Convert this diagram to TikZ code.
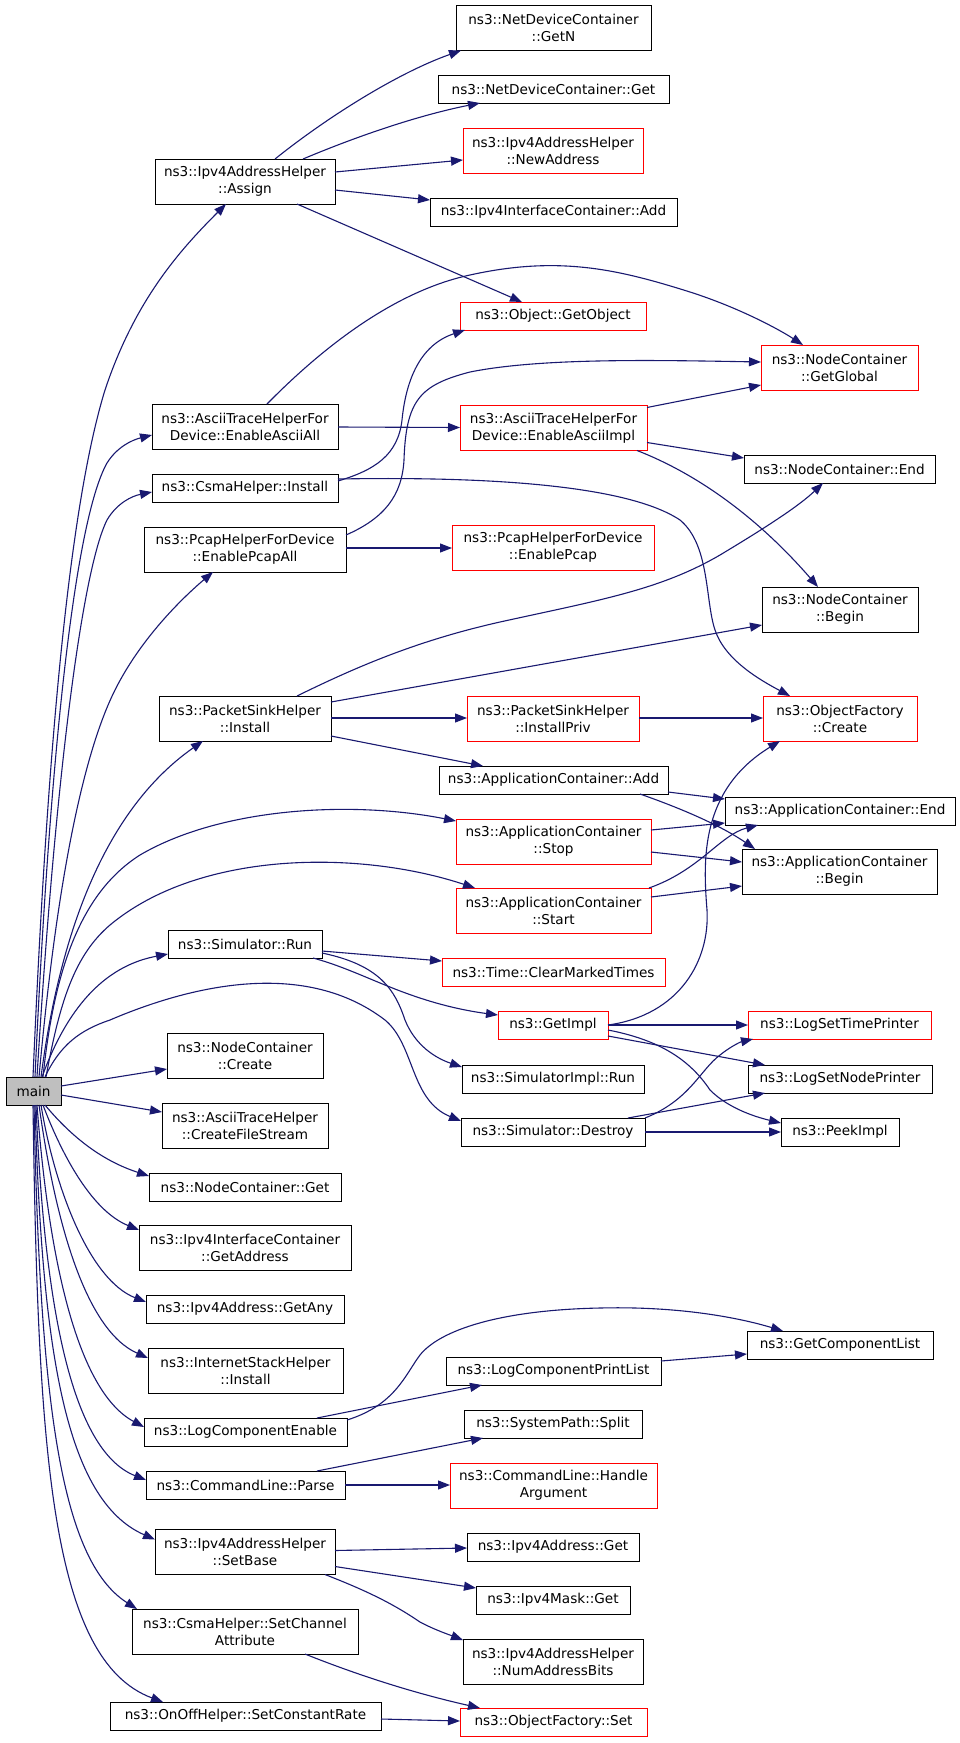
\documentclass[tikz,border=0pt]{standalone}
\usepackage{fontspec}
\setmainfont{DejaVu Sans}
\usetikzlibrary{arrows.meta,calc}
\definecolor{edgecol}{HTML}{191970}
\definecolor{mainfill}{HTML}{BFBFBF}
\begin{document}
\begin{tikzpicture}[x=1pt,y=-1pt,
  box/.style={draw=black, fill=white, line width=0.9pt, inner sep=0pt, outer sep=0pt, align=center, font=\fontsize{13.6}{17}\selectfont},
  one/.style={box, minimum height=28pt},
  two/.style={box, minimum height=45pt},
  rbox/.style={draw=red},
  edg/.style={draw=edgecol, line width=1.1pt, -{Triangle[length=12pt,width=9pt]}}]
\fill[white] (0,0) rectangle (960,1743);
\useasboundingbox (0,0) rectangle (960,1743);

\node[two, minimum width=180pt] (assign) at (245,181.5) {ns3::Ipv4AddressHelper\\::Assign};
\node[two, minimum width=195pt] (getn) at (553.5,28) {ns3::NetDeviceContainer\\::GetN};
\node[one, minimum width=231pt] (ndcget) at (553.5,89) {ns3::NetDeviceContainer::Get};
\node[two, rbox, minimum width=180pt] (newaddr) at (553,150.5) {ns3::Ipv4AddressHelper\\::NewAddress};
\node[one, minimum width=247pt] (ifadd) at (553.5,212) {ns3::Ipv4InterfaceContainer::Add};
\node[one, rbox, minimum width=186pt] (getobject) at (553,316) {ns3::Object::GetObject};
\node[two, rbox, minimum width=157pt] (getglobal) at (839.5,367.5) {ns3::NodeContainer\\::GetGlobal};
\node[two, minimum width=186pt] (asciiall) at (245,426.5) {ns3::AsciiTraceHelperFor\\Device::EnableAsciiAll};
\node[two, rbox, minimum width=187pt] (asciiimpl) at (553.5,428) {ns3::AsciiTraceHelperFor\\Device::EnableAsciiImpl};
\node[one, minimum width=191pt] (ncend) at (839.5,469) {ns3::NodeContainer::End};
\node[one, minimum width=186pt] (csmainstall) at (245,488) {ns3::CsmaHelper::Install};
\node[two, minimum width=202pt] (pcapall) at (245,549.5) {ns3::PcapHelperForDevice\\::EnablePcapAll};
\node[two, rbox, minimum width=202pt] (pcap) at (553,547.5) {ns3::PcapHelperForDevice\\::EnablePcap};
\node[two, minimum width=156pt] (ncbegin) at (840,609.5) {ns3::NodeContainer\\::Begin};
\node[two, minimum width=172pt] (psinstall) at (245,718.5) {ns3::PacketSinkHelper\\::Install};
\node[two, rbox, minimum width=172pt] (installpriv) at (553,718.5) {ns3::PacketSinkHelper\\::InstallPriv};
\node[two, rbox, minimum width=154pt] (create) at (840,718.5) {ns3::ObjectFactory\\::Create};
\node[one, minimum width=229pt] (appadd) at (553.5,780) {ns3::ApplicationContainer::Add};
\node[one, minimum width=230pt] (append) at (840,811) {ns3::ApplicationContainer::End};
\node[two, rbox, minimum width=195pt] (stop) at (553.5,841.5) {ns3::ApplicationContainer\\::Stop};
\node[two, minimum width=195pt] (appbegin) at (839.5,871.5) {ns3::ApplicationContainer\\::Begin};
\node[two, rbox, minimum width=195pt] (start) at (553.5,910.5) {ns3::ApplicationContainer\\::Start};
\node[one, minimum width=154pt] (simrun) at (245,944) {ns3::Simulator::Run};
\node[one, rbox, minimum width=223pt] (clear) at (553.5,972) {ns3::Time::ClearMarkedTimes};
\node[one, rbox, minimum width=110pt] (getimpl) at (553,1025) {ns3::GetImpl};
\node[one, rbox, minimum width=183pt] (timeprinter) at (839.5,1025) {ns3::LogSetTimePrinter};
\node[two, minimum width=156pt] (ncreate) at (245,1055.5) {ns3::NodeContainer\\::Create};
\node[one, minimum width=182pt] (simimplrun) at (553,1079) {ns3::SimulatorImpl::Run};
\node[one, minimum width=184pt] (nodeprinter) at (840,1079) {ns3::LogSetNodePrinter};
\node[one, fill=mainfill, minimum width=55pt] (main) at (33.5,1091) {main};
\node[two, minimum width=166pt] (filestream) at (245,1125.5) {ns3::AsciiTraceHelper\\::CreateFileStream};
\node[one, minimum width=184pt] (destroy) at (553,1132) {ns3::Simulator::Destroy};
\node[one, minimum width=118pt] (peek) at (840,1132) {ns3::PeekImpl};
\node[one, minimum width=192pt] (ncget) at (245,1187) {ns3::NodeContainer::Get};
\node[two, minimum width=212pt] (getaddress) at (245,1247.5) {ns3::Ipv4InterfaceContainer\\::GetAddress};
\node[one, minimum width=198pt] (getany) at (245,1309) {ns3::Ipv4Address::GetAny};
\node[one, minimum width=186pt] (complist) at (840,1345) {ns3::GetComponentList};
\node[two, minimum width=195pt] (ishinstall) at (245.5,1370.5) {ns3::InternetStackHelper\\::Install};
\node[one, minimum width=215pt] (printlist) at (553.5,1371) {ns3::LogComponentPrintList};
\node[one, minimum width=178pt] (split) at (553,1424) {ns3::SystemPath::Split};
\node[one, minimum width=203pt] (lce) at (245.5,1432) {ns3::LogComponentEnable};
\node[two, rbox, minimum width=207pt] (handlearg) at (553.5,1485.5) {ns3::CommandLine::Handle\\Argument};
\node[one, minimum width=199pt] (parse) at (245.5,1485) {ns3::CommandLine::Parse};
\node[two, minimum width=180pt] (setbase) at (245,1552) {ns3::Ipv4AddressHelper\\::SetBase};
\node[one, minimum width=172pt] (addrget) at (553,1547) {ns3::Ipv4Address::Get};
\node[one, minimum width=154pt] (maskget) at (553,1600) {ns3::Ipv4Mask::Get};
\node[two, minimum width=226pt] (channel) at (245,1631.5) {ns3::CsmaHelper::SetChannel\\Attribute};
\node[two, minimum width=180pt] (numbits) at (553,1661.5) {ns3::Ipv4AddressHelper\\::NumAddressBits};
\node[one, minimum width=271pt] (constrate) at (245.5,1716) {ns3::OnOffHelper::SetConstantRate};
\node[one, rbox, minimum width=187pt] (ofset) at (553.5,1722) {ns3::ObjectFactory::Set};

% main edges
\draw[edg] ($(main.north west)+(27,0)$) .. controls (45,800) and (65,520) .. (105,390) .. controls (135,300) and (180,250) .. ($(assign.south west)+(71,0)$);
\draw[edg] ($(main.north west)+(29,0)$) .. controls (50,750) and (75,520) .. (107,463) .. controls (117,447) and (132,440) .. ($(asciiall.north west)+(0,31)$);
\draw[edg] ($(main.north west)+(31,0)$) .. controls (55,780) and (82,570) .. (107,520) .. controls (117,503) and (132,496) .. ($(csmainstall.north west)+(0,18)$);
\draw[edg] ($(main.north west)+(33,0)$) .. controls (55,900) and (80,760) .. (115,690) .. controls (140,640) and (180,600) .. ($(pcapall.south west)+(69,0)$);
\draw[edg] ($(main.north west)+(35,0)$) .. controls (55,970) and (90,820) .. ($(psinstall.south west)+(44,0)$);
\draw[edg] ($(main.north west)+(37,0)$) .. controls (55,960) and (85,890) .. (140,855) .. controls (220,808) and (350,800) .. ($(stop.north west)+(0,2)$);
\draw[edg] ($(main.north west)+(40,0)$) .. controls (60,1000) and (75,955) .. (110,925) .. controls (200,850) and (360,850) .. ($(start.north west)+(19,0)$);
\draw[edg] ($(main.north west)+(36,0)$) .. controls (70,1000) and (110,965) .. ($(simrun.north west)+(0,24)$);
\draw[edg] ($(main.north west)+(39,0)$) .. controls (60,1045) and (80,1030) .. (110,1020) .. controls (180,990) and (300,955) .. (385,1020) .. controls (415,1045) and (410,1100) .. ($(destroy.north west)+(0,3)$);
\draw[edg] ($(main.north east)+(0,9)$) -- ($(ncreate.north west)+(0,36)$);
\draw[edg] ($(main.north east)+(0,18)$) -- ($(filestream.north west)+(0,9)$);
\draw[edg] ($(main.south west)+(39,0)$) .. controls (70,1135) and (100,1160) .. ($(ncget.north west)+(0,3)$);
\draw[edg] ($(main.south west)+(37,0)$) .. controls (60,1150) and (90,1210) .. ($(getaddress.north west)+(0,5)$);
\draw[edg] ($(main.south west)+(35,0)$) .. controls (55,1190) and (90,1280) .. ($(getany.north west)+(0,7)$);
\draw[edg] ($(main.south west)+(33,0)$) .. controls (55,1220) and (85,1330) .. ($(ishinstall.north west)+(0,10)$);
\draw[edg] ($(main.south west)+(31,0)$) .. controls (48,1250) and (75,1390) .. ($(lce.north west)+(0,9)$);
\draw[edg] ($(main.south west)+(30,0)$) .. controls (44,1300) and (70,1450) .. ($(parse.north west)+(0,9)$);
\draw[edg] ($(main.south west)+(29,0)$) .. controls (42,1350) and (65,1500) .. ($(setbase.north west)+(0,10)$);
\draw[edg] ($(main.south west)+(28,0)$) .. controls (40,1400) and (60,1560) .. ($(channel.north west)+(5,0)$);
\draw[edg] ($(main.south west)+(27,0)$) .. controls (38,1450) and (50,1660) .. ($(constrate.north west)+(53,0)$);

% assign
\draw[edg] ($(assign.north west)+(120,0)$) .. controls (330,115) and (400,72) .. ($(getn.south west)+(5,0)$);
\draw[edg] ($(assign.north west)+(148,0)$) .. controls (360,135) and (420,115) .. ($(ndcget.south west)+(42,0)$);
\draw[edg] ($(assign.north east)+(0,13)$) -- ($(newaddr.north west)+(0,32)$);
\draw[edg] ($(assign.north east)+(0,31)$) -- ($(ifadd.north west)+(0,2)$);
\draw[edg] ($(assign.south west)+(142,0)$) -- ($(getobject.north west)+(62,0)$);

% ascii
\draw[edg] ($(asciiall.north west)+(115,0)$) .. controls (330,340) and (400,290) .. (470,275) .. controls (560,255) and (620,270) .. (690,292) .. controls (740,308) and (780,330) .. ($(getglobal.north west)+(42,0)$);
\draw[edg] ($(asciiall.north east)+(0,23)$) -- ($(asciiimpl.north west)+(0,22)$);
\draw[edg] ($(asciiimpl.north east)+(0,2)$) -- ($(getglobal.north west)+(0,40)$);
\draw[edg] ($(asciiimpl.north east)+(0,37)$) -- ($(ncend.north west)+(0,3)$);
\draw[edg] ($(asciiimpl.south west)+(177,0)$) .. controls (700,475) and (760,520) .. ($(ncbegin.north west)+(56,0)$);

% csma / pcap
\draw[edg] ($(csmainstall.north east)+(0,7)$) .. controls (375,470) and (398,455) .. (402,420) .. controls (406,380) and (420,345) .. ($(getobject.south west)+(5,0)$);
\draw[edg] ($(csmainstall.north east)+(0,5)$) .. controls (450,477) and (620,480) .. (680,520) .. controls (710,545) and (705,600) .. (715,630) .. controls (725,660) and (760,680) .. ($(create.north west)+(27,0)$);
\draw[edg] ($(pcapall.north east)+(0,8)$) .. controls (385,518) and (402,495) .. (404,460) .. controls (406,400) and (420,385) .. (470,372) .. controls (540,358) and (650,360) .. ($(getglobal.north west)+(0,17)$);
\draw[edg] ($(pcapall.north east)+(0,21)$) -- ($(pcap.north west)+(0,23)$);

% packet sink
\draw[edg] ($(psinstall.north west)+(138,0)$) .. controls (360,665) and (420,640) .. (500,622) .. controls (600,600) and (660,590) .. (720,555) .. controls (770,525) and (800,505) .. ($(ncend.south west)+(79,0)$);
\draw[edg] ($(psinstall.north east)+(0,6)$) -- ($(ncbegin.north west)+(0,38)$);
\draw[edg] ($(psinstall.north east)+(0,22)$) -- ($(installpriv.north west)+(0,22)$);
\draw[edg] ($(psinstall.north east)+(0,40)$) -- ($(appadd.north west)+(44,0)$);
\draw[edg] ($(installpriv.north east)+(0,22)$) -- ($(create.north west)+(0,22)$);

% application container
\draw[edg] ($(appadd.north east)+(0,26)$) -- ($(append.north west)+(0,2)$);
\draw[edg] ($(appadd.south west)+(201,0)$) .. controls (680,808) and (720,825) .. ($(appbegin.north west)+(13,0)$);
\draw[edg] ($(stop.north east)+(0,11)$) -- ($(append.north west)+(0,26)$);
\draw[edg] ($(stop.north east)+(0,33)$) -- ($(appbegin.north west)+(0,13)$);
\draw[edg] ($(start.north east)+(-2,0)$) .. controls (700,870) and (720,835) .. ($(append.south west)+(33,0)$);
\draw[edg] ($(start.north east)+(0,9)$) -- ($(appbegin.north west)+(0,37)$);

% simulator
\draw[edg] ($(simrun.north east)+(0,21)$) -- ($(clear.north west)+(0,3)$);
\draw[edg] ($(simrun.south west)+(145,0)$) .. controls (350,968) and (380,985) .. (420,998) .. controls (450,1008) and (475,1012) .. ($(getimpl.north west)+(0,4)$);
\draw[edg] ($(simrun.north east)+(0,23)$) .. controls (380,965) and (395,990) .. (405,1020) .. controls (415,1045) and (435,1058) .. ($(simimplrun.north west)+(0,2)$);
\draw[edg] ($(getimpl.north east)+(0,14)$) .. controls (680,1015) and (710,960) .. (707,910) .. controls (703,860) and (700,790) .. ($(create.south west)+(17,0)$);
\draw[edg] ($(getimpl.north east)+(0,14)$) -- ($(timeprinter.north west)+(0,14)$);
\draw[edg] ($(getimpl.north east)+(0,25)$) -- ($(nodeprinter.north west)+(17,0)$);
\draw[edg] ($(getimpl.north east)+(0,19)$) .. controls (660,1040) and (690,1060) .. (710,1090) .. controls (730,1110) and (760,1118) .. ($(peek.north west)+(0,5)$);
\draw[edg] (destroy.north east) .. controls (690,1100) and (700,1070) .. (720,1055) .. controls (730,1047) and (740,1042) .. ($(timeprinter.south west)+(5,0)$);
\draw[edg] ($(destroy.north west)+(167,0)$) -- ($(nodeprinter.south west)+(17,0)$);
\draw[edg] ($(destroy.north east)+(0,14)$) -- ($(peek.north west)+(0,14)$);

% log / command line / addresses
\draw[edg] ($(lce.north east)+(0,2)$) .. controls (395,1405) and (405,1375) .. (420,1355) .. controls (440,1330) and (500,1310) .. (600,1308) .. controls (680,1306) and (740,1318) .. ($(complist.north west)+(36,0)$);
\draw[edg] ($(lce.north west)+(173,0)$) -- ($(printlist.south west)+(36,0)$);
\draw[edg] ($(printlist.north east)+(0,4)$) -- ($(complist.north west)+(0,23)$);
\draw[edg] ($(parse.north west)+(171,0)$) -- ($(split.south west)+(19,0)$);
\draw[edg] ($(parse.north east)+(0,14)$) -- ($(handlearg.north west)+(0,22)$);
\draw[edg] ($(setbase.north east)+(0,21)$) -- ($(addrget.north west)+(0,15)$);
\draw[edg] ($(setbase.north east)+(0,37)$) -- ($(maskget.north west)+(0,2)$);
\draw[edg] ($(setbase.south west)+(170,0)$) .. controls (370,1592) and (395,1605) .. (420,1622) .. controls (435,1630) and (450,1635) .. ($(numbits.north west)+(0,1)$);
\draw[edg] ($(channel.south west)+(173,0)$) .. controls (340,1668) and (400,1690) .. ($(ofset.north west)+(20,0)$);
\draw[edg] ($(constrate.north east)+(0,17)$) -- ($(ofset.north west)+(0,13)$);
\end{tikzpicture}
\end{document}
